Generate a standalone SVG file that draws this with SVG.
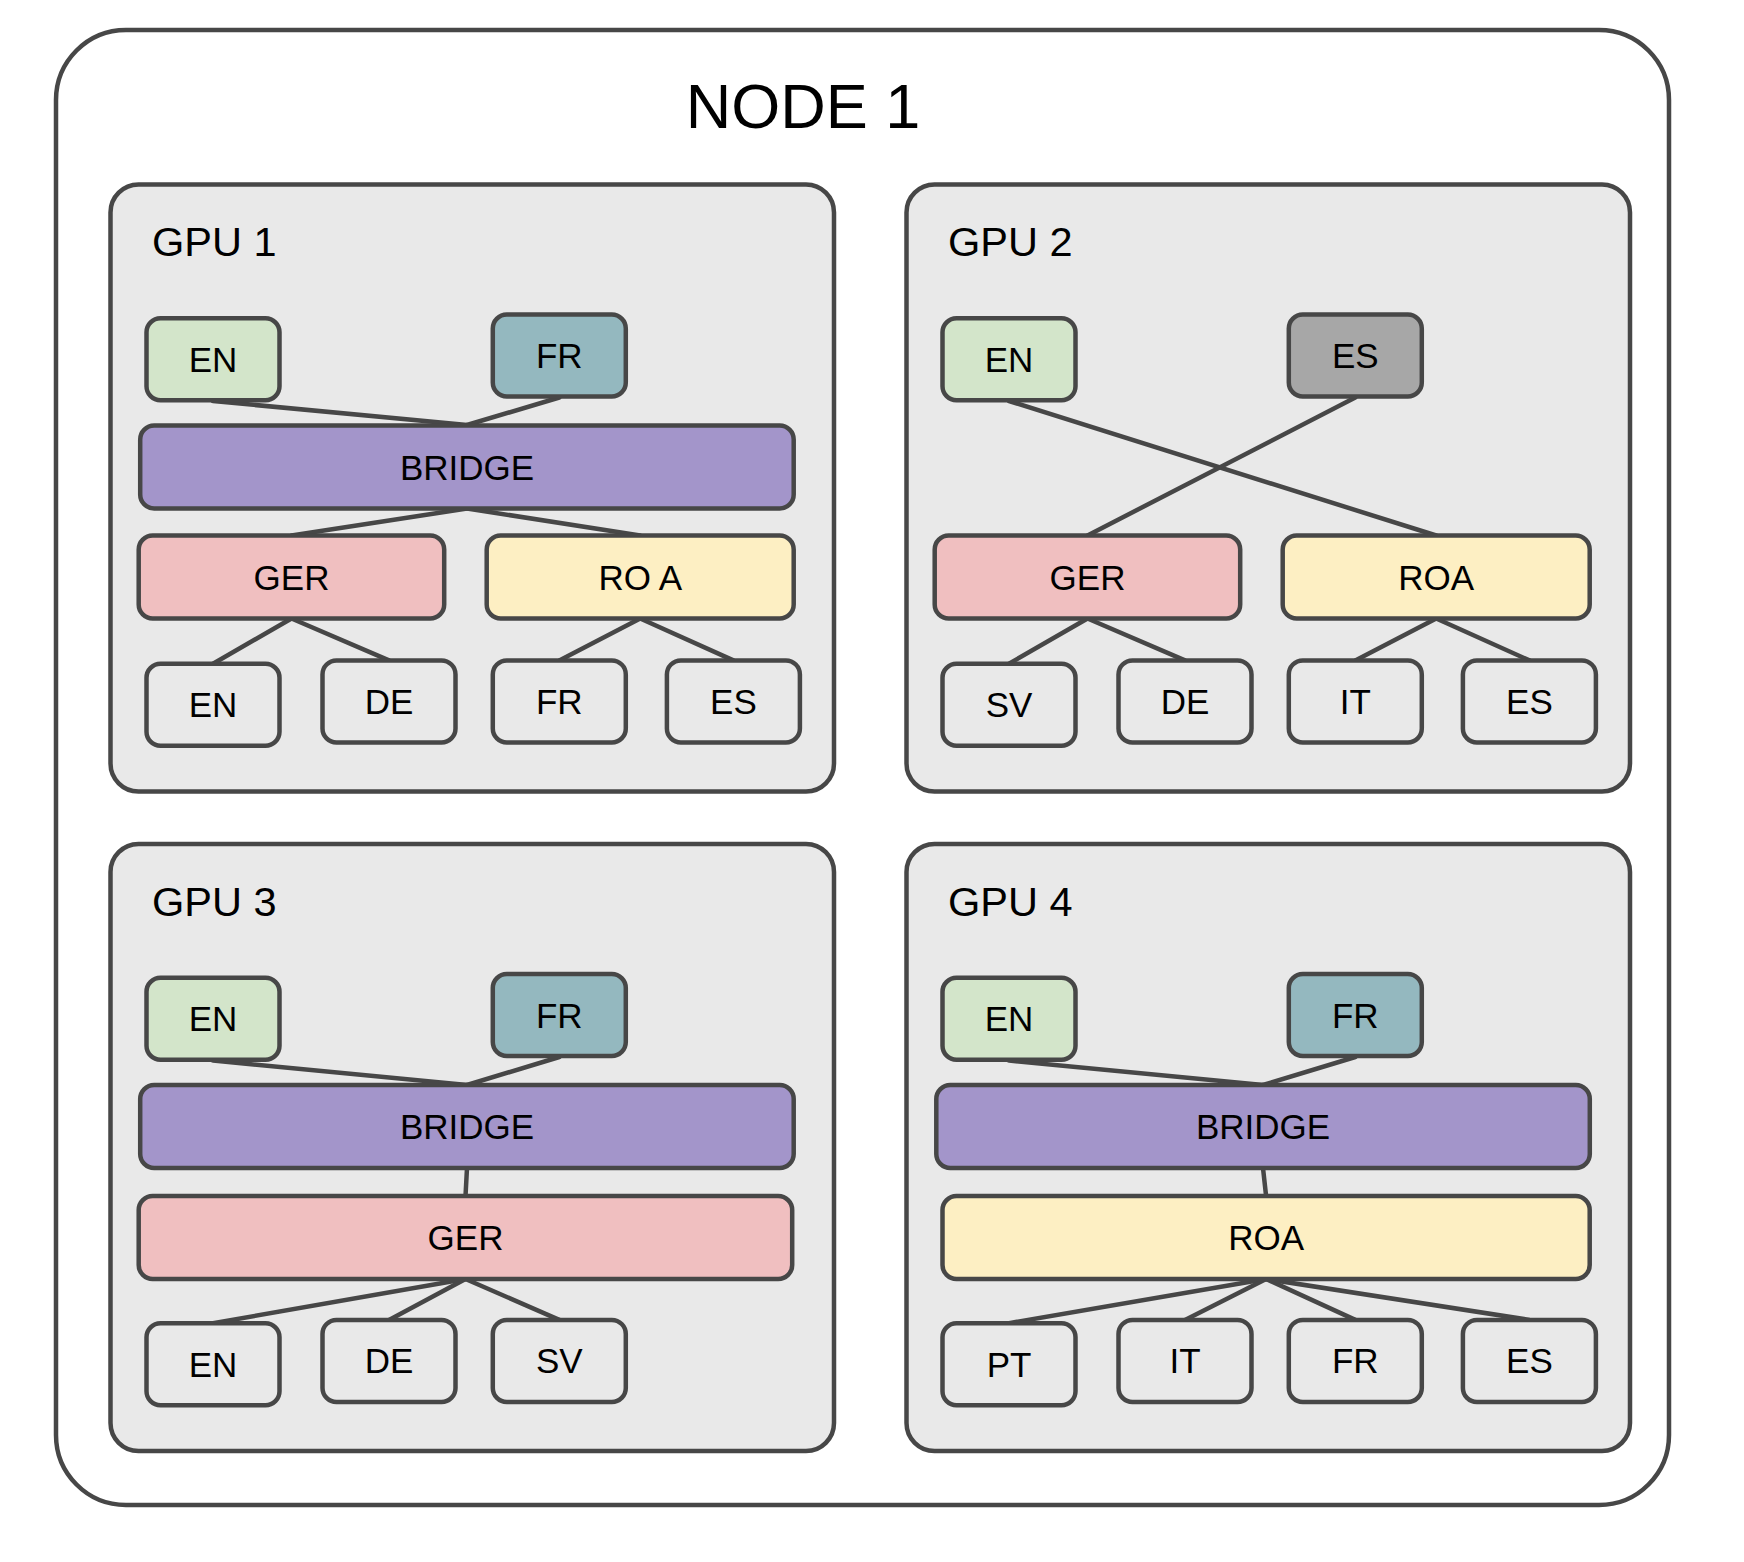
<svg xmlns="http://www.w3.org/2000/svg" width="1744" height="1562" viewBox="0 0 1744 1562">
<style>
.box{stroke:#474747;stroke-width:4.5}
.outer{fill:#ffffff}
.gpu{fill:#e9e9e9}
.plain{fill:#e9e9e9}
.en{fill:#d3e5ca}
.fr{fill:#94b8bf}
.esg{fill:#a7a7a7}
.br{fill:#a395ca}
.ger{fill:#f0bfc0}
.roa{fill:#fdefc3}
text{font-family:"Liberation Sans",Arial,sans-serif;fill:#000}
.t{font-size:35px;text-anchor:middle}
.g{font-size:41.5px}
.n{font-size:63px;text-anchor:middle}
.c line{stroke:#474747;stroke-width:4.5;stroke-linecap:round}
</style>
<g id="node1">
<rect class="box outer" x="56" y="30" width="1613" height="1475" rx="70"/>
<text class="n" x="803" y="128">NODE 1</text>
</g>
<g id="gpu1"><rect class="box gpu" x="110.5" y="184.5" width="723.5" height="607" rx="28"/><text class="g" x="152" y="256">GPU 1</text></g>
<g id="gpu2"><rect class="box gpu" x="906.5" y="184.5" width="723.5" height="607" rx="28"/><text class="g" x="948" y="256">GPU 2</text></g>
<g id="gpu3"><rect class="box gpu" x="110.5" y="844" width="723.5" height="607" rx="28"/><text class="g" x="152" y="915.5">GPU 3</text></g>
<g id="gpu4"><rect class="box gpu" x="906.5" y="844" width="723.5" height="607" rx="28"/><text class="g" x="948" y="915.5">GPU 4</text></g>

<g id="connectors" class="c">
<!-- GPU1 -->
<line x1="213" y1="401" x2="467" y2="425"/>
<line x1="559.3" y1="397.5" x2="467" y2="425"/>
<line x1="467" y1="508.5" x2="291.5" y2="535.5"/>
<line x1="467" y1="508.5" x2="640.2" y2="535.5"/>
<line x1="291.5" y1="618.5" x2="213" y2="663.7"/>
<line x1="291.5" y1="618.5" x2="389" y2="660.4"/>
<line x1="640.2" y1="618.5" x2="559.3" y2="660.4"/>
<line x1="640.2" y1="618.5" x2="733.4" y2="660.4"/>
<!-- GPU2 -->
<line x1="1009" y1="401" x2="1436.2" y2="535.5"/>
<line x1="1355.3" y1="397.5" x2="1087.5" y2="535.5"/>
<line x1="1087.5" y1="618.5" x2="1009" y2="663.7"/>
<line x1="1087.5" y1="618.5" x2="1185" y2="660.4"/>
<line x1="1436.2" y1="618.5" x2="1355.3" y2="660.4"/>
<line x1="1436.2" y1="618.5" x2="1529.4" y2="660.4"/>
<!-- GPU3 -->
<line x1="213" y1="1060.5" x2="467" y2="1085"/>
<line x1="559.3" y1="1057" x2="467" y2="1085"/>
<line x1="467" y1="1168" x2="465.5" y2="1196"/>
<line x1="465.5" y1="1279" x2="213" y2="1323.2"/>
<line x1="465.5" y1="1279" x2="389" y2="1319.9"/>
<line x1="465.5" y1="1279" x2="559.3" y2="1319.9"/>
<!-- GPU4 -->
<line x1="1009" y1="1060.5" x2="1263" y2="1085"/>
<line x1="1355.3" y1="1057" x2="1263" y2="1085"/>
<line x1="1263" y1="1168" x2="1266.1" y2="1196"/>
<line x1="1266.1" y1="1279" x2="1009" y2="1323.2"/>
<line x1="1266.1" y1="1279" x2="1185" y2="1319.9"/>
<line x1="1266.1" y1="1279" x2="1355.3" y2="1319.9"/>
<line x1="1266.1" y1="1279" x2="1529.4" y2="1319.9"/>
</g>

<!-- GPU1 nodes -->
<g id="g1-en"><rect class="box en" x="146.5" y="318.2" width="133" height="82" rx="14"/><text class="t" x="213" y="371.7">EN</text></g>
<g id="g1-fr"><rect class="box fr" x="492.8" y="314.5" width="133" height="82" rx="14"/><text class="t" x="559.3" y="368">FR</text></g>
<g id="g1-bridge"><rect class="box br" x="140.2" y="425.5" width="653.5" height="83" rx="14"/><text class="t" x="467" y="479.5">BRIDGE</text></g>
<g id="g1-ger"><rect class="box ger" x="138.7" y="535.5" width="305.5" height="83" rx="14"/><text class="t" x="291.5" y="589.5">GER</text></g>
<g id="g1-roa"><rect class="box roa" x="486.7" y="535.5" width="307" height="83" rx="14"/><text class="t" x="640.2" y="589.5">RO A</text></g>
<g id="g1-en2"><rect class="box plain" x="146.5" y="663.7" width="133" height="82" rx="14"/><text class="t" x="213" y="717.2">EN</text></g>
<g id="g1-de"><rect class="box plain" x="322.5" y="660.4" width="133" height="82" rx="14"/><text class="t" x="389" y="713.9">DE</text></g>
<g id="g1-fr2"><rect class="box plain" x="492.8" y="660.4" width="133" height="82" rx="14"/><text class="t" x="559.3" y="713.9">FR</text></g>
<g id="g1-es"><rect class="box plain" x="666.9" y="660.4" width="133" height="82" rx="14"/><text class="t" x="733.4" y="713.9">ES</text></g>

<!-- GPU2 nodes -->
<g id="g2-en"><rect class="box en" x="942.5" y="318.2" width="133" height="82" rx="14"/><text class="t" x="1009" y="371.7">EN</text></g>
<g id="g2-es"><rect class="box esg" x="1288.8" y="314.5" width="133" height="82" rx="14"/><text class="t" x="1355.3" y="368">ES</text></g>
<g id="g2-ger"><rect class="box ger" x="934.7" y="535.5" width="305.5" height="83" rx="14"/><text class="t" x="1087.5" y="589.5">GER</text></g>
<g id="g2-roa"><rect class="box roa" x="1282.7" y="535.5" width="307" height="83" rx="14"/><text class="t" x="1436.2" y="589.5">ROA</text></g>
<g id="g2-sv"><rect class="box plain" x="942.5" y="663.7" width="133" height="82" rx="14"/><text class="t" x="1009" y="717.2">SV</text></g>
<g id="g2-de"><rect class="box plain" x="1118.5" y="660.4" width="133" height="82" rx="14"/><text class="t" x="1185" y="713.9">DE</text></g>
<g id="g2-it"><rect class="box plain" x="1288.8" y="660.4" width="133" height="82" rx="14"/><text class="t" x="1355.3" y="713.9">IT</text></g>
<g id="g2-es2"><rect class="box plain" x="1462.9" y="660.4" width="133" height="82" rx="14"/><text class="t" x="1529.4" y="713.9">ES</text></g>

<!-- GPU3 nodes -->
<g id="g3-en"><rect class="box en" x="146.5" y="977.7" width="133" height="82" rx="14"/><text class="t" x="213" y="1031.2">EN</text></g>
<g id="g3-fr"><rect class="box fr" x="492.8" y="974" width="133" height="82" rx="14"/><text class="t" x="559.3" y="1027.5">FR</text></g>
<g id="g3-bridge"><rect class="box br" x="140.2" y="1085" width="653.5" height="83" rx="14"/><text class="t" x="467" y="1139">BRIDGE</text></g>
<g id="g3-ger"><rect class="box ger" x="138.7" y="1196" width="653.5" height="83" rx="14"/><text class="t" x="465.5" y="1250">GER</text></g>
<g id="g3-en2"><rect class="box plain" x="146.5" y="1323.2" width="133" height="82" rx="14"/><text class="t" x="213" y="1376.7">EN</text></g>
<g id="g3-de"><rect class="box plain" x="322.5" y="1319.9" width="133" height="82" rx="14"/><text class="t" x="389" y="1373.4">DE</text></g>
<g id="g3-sv"><rect class="box plain" x="492.8" y="1319.9" width="133" height="82" rx="14"/><text class="t" x="559.3" y="1373.4">SV</text></g>

<!-- GPU4 nodes -->
<g id="g4-en"><rect class="box en" x="942.5" y="977.7" width="133" height="82" rx="14"/><text class="t" x="1009" y="1031.2">EN</text></g>
<g id="g4-fr"><rect class="box fr" x="1288.8" y="974" width="133" height="82" rx="14"/><text class="t" x="1355.3" y="1027.5">FR</text></g>
<g id="g4-bridge"><rect class="box br" x="936.3" y="1085" width="653.5" height="83" rx="14"/><text class="t" x="1263" y="1139">BRIDGE</text></g>
<g id="g4-roa"><rect class="box roa" x="942.5" y="1196" width="647.2" height="83" rx="14"/><text class="t" x="1266.1" y="1250">ROA</text></g>
<g id="g4-pt"><rect class="box plain" x="942.5" y="1323.2" width="133" height="82" rx="14"/><text class="t" x="1009" y="1376.7">PT</text></g>
<g id="g4-it"><rect class="box plain" x="1118.5" y="1319.9" width="133" height="82" rx="14"/><text class="t" x="1185" y="1373.4">IT</text></g>
<g id="g4-fr2"><rect class="box plain" x="1288.8" y="1319.9" width="133" height="82" rx="14"/><text class="t" x="1355.3" y="1373.4">FR</text></g>
<g id="g4-es"><rect class="box plain" x="1462.9" y="1319.9" width="133" height="82" rx="14"/><text class="t" x="1529.4" y="1373.4">ES</text></g>
</svg>
